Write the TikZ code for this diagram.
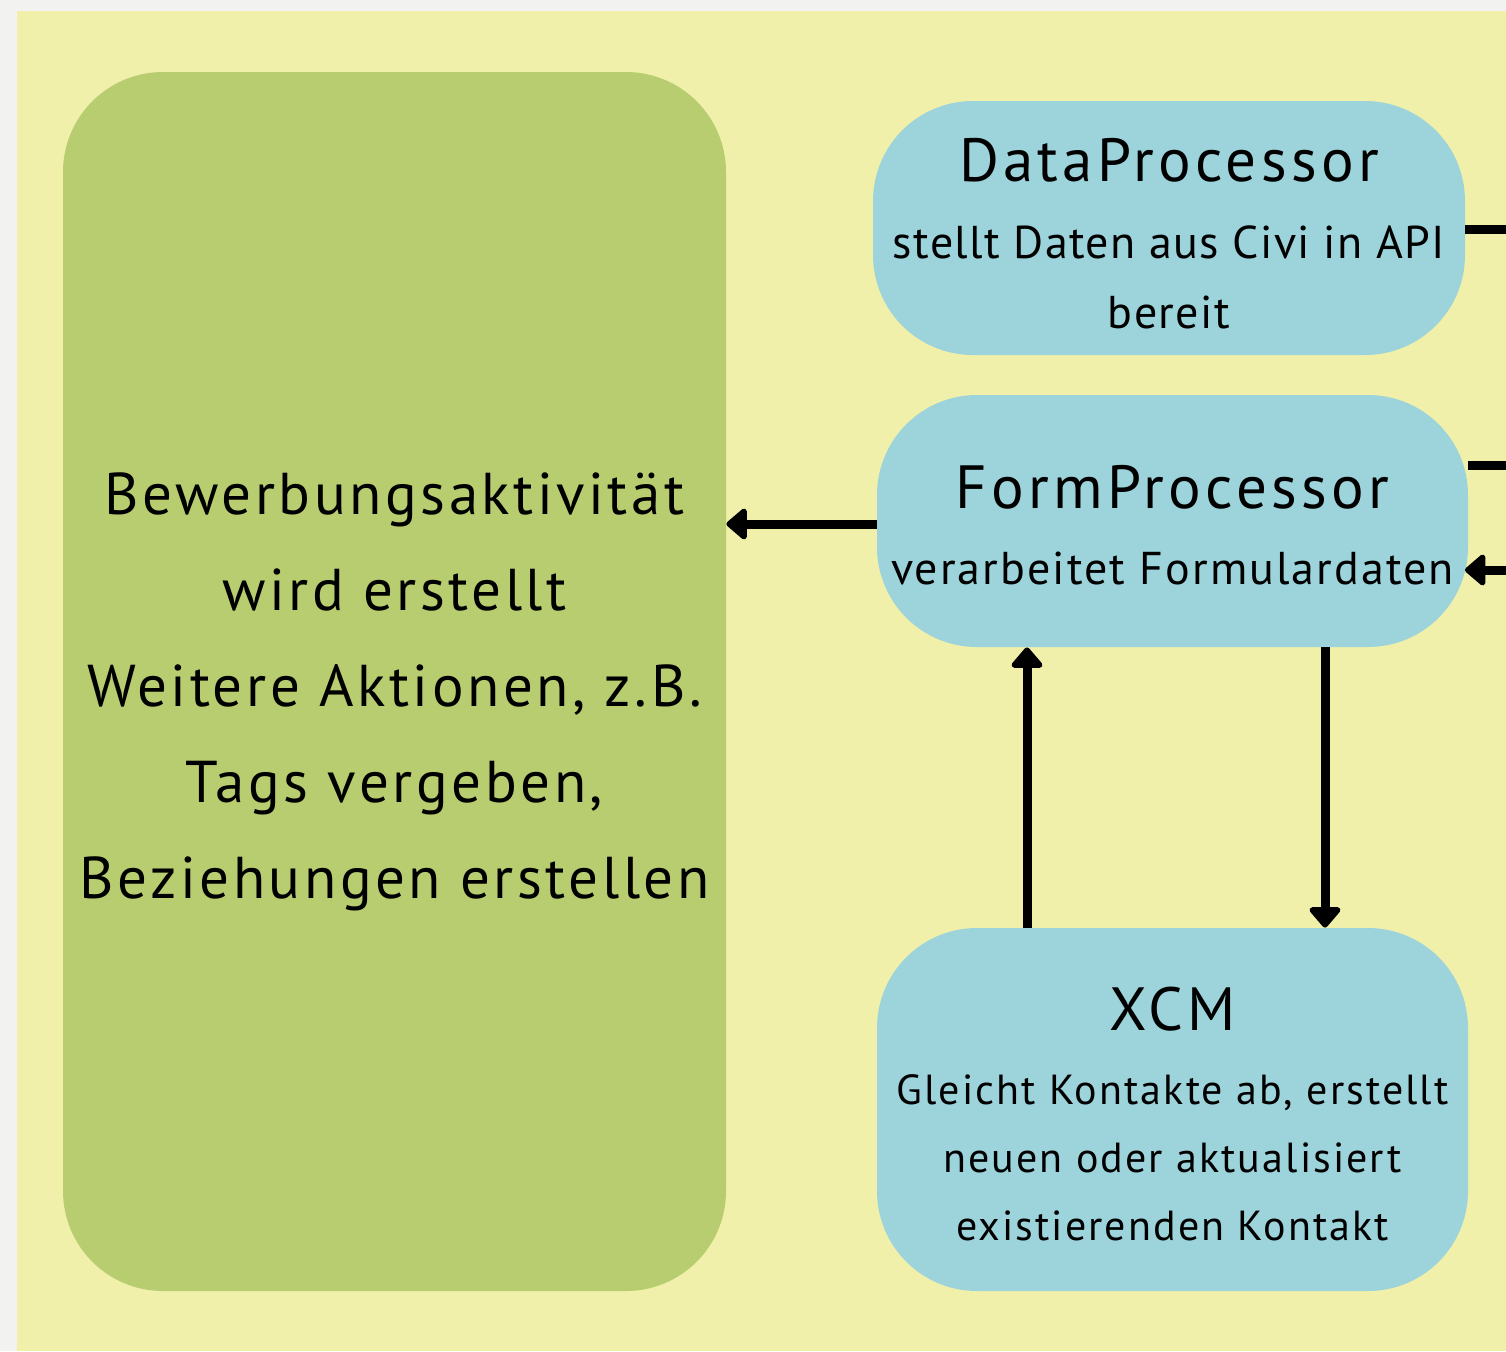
\documentclass[tikz,border=0pt]{standalone}
\usepackage{fontspec}
\setmainfont{PT Sans}
\usetikzlibrary{arrows.meta}
\definecolor{bggray}{RGB}{242,243,241}
\definecolor{panel}{RGB}{240,240,170}
\definecolor{greenbox}{RGB}{183,205,112}
\definecolor{bluebox}{RGB}{157,211,219}
\tikzset{
  box/.style={draw=none, rounded corners=50pt, inner sep=0pt},
  greenstyle/.style={box, fill=greenbox},
  bluestyle/.style={box, fill=bluebox},
  txt/.style={anchor=base, inner sep=0pt},
  title/.style={txt, font=\fontsize{30.5}{36}\selectfont\addfontfeatures{LetterSpace=7}},
  sub/.style={txt, font=\fontsize{23}{28}\selectfont\addfontfeatures{LetterSpace=3}},
  subb/.style={txt, font=\fontsize{23}{28}\selectfont\addfontfeatures{LetterSpace=4.5}},
  big/.style={txt, font=\fontsize{29.5}{34}\selectfont\addfontfeatures{LetterSpace=6}},
  small/.style={txt, font=\fontsize{21}{26}\selectfont\addfontfeatures{LetterSpace=5}},
  conn/.style={line width=4.5pt},
  arr/.style={conn, -{Triangle[length=11pt,width=18pt,round]}},
}
\begin{document}
\begin{tikzpicture}[x=0.5pt,y=-0.5pt]
\fill[bggray] (0,0) rectangle (1506,1351);
\fill[panel] (17,11) rectangle (1506,1351);
\useasboundingbox (0,0) rectangle (1506,1351);

\node[greenstyle, minimum width=331.5pt, minimum height=609.5pt] (green) at (394.5,681.5) {};
\node[bluestyle, minimum width=296pt, minimum height=127pt] (data) at (1169,228) {};
\node[bluestyle, minimum width=295.5pt, minimum height=126pt] (form) at (1172.5,521) {};
\node[bluestyle, minimum width=295.5pt, minimum height=181.5pt] (xcm) at (1172.5,1109.5) {};

% green texts
\node[big] (g1) at (394.5,514) {Bewerbungsaktivität};
\node[big] (g2) at (394.5,610) {wird erstellt};
\node[big] (g3) at (394.5,706) {Weitere Aktionen, z.B.};
\node[big] (g4) at (394.5,802) {Tags vergeben,};
\node[big] (g5) at (394.5,898) {Beziehungen erstellen};

% data texts
\node[title] (d1) at (1169,181) {DataProcessor};
\node[sub] (d2) at (1169,258) {stellt Daten aus Civi in API};
\node[sub] (d3) at (1169,328) {bereit};

% form texts
\node[title] (f1) at (1172.5,508) {FormProcessor};
\node[subb] (f2) at (1172.5,584) {verarbeitet Formulardaten};

% xcm texts
\node[title] (x1) at (1172.5,1030) {XCM};
\node[small] (x2) at (1172.5,1104) {Gleicht Kontakte ab, erstellt};
\node[small] (x3) at (1172.5,1172) {neuen oder aktualisiert};
\node[small] (x4) at (1172.5,1240) {existierenden Kontakt};

% free ends at right edge
\coordinate (e1) at (1506,229);
\coordinate (e2) at (1506,465);
\coordinate (e3) at (1506,570);
\coordinate (f3) at (1465,570);

\draw[conn] (data.east |- e1) -- (e1);
\draw[conn] (form.east |- e2) -- (e2);
\draw[arr] (e3) -- (f3);

\draw[arr] ([yshift=-1.5pt]form.west) -- ([yshift=-1.5pt]form.west -| green.east);
\draw[arr] ([xshift=-72.75pt]xcm.north) -- ([xshift=-72.75pt]form.south);
\draw[arr] ([xshift=76.25pt]form.south) -- ([xshift=76.25pt]xcm.north);
\end{tikzpicture}
\end{document}
